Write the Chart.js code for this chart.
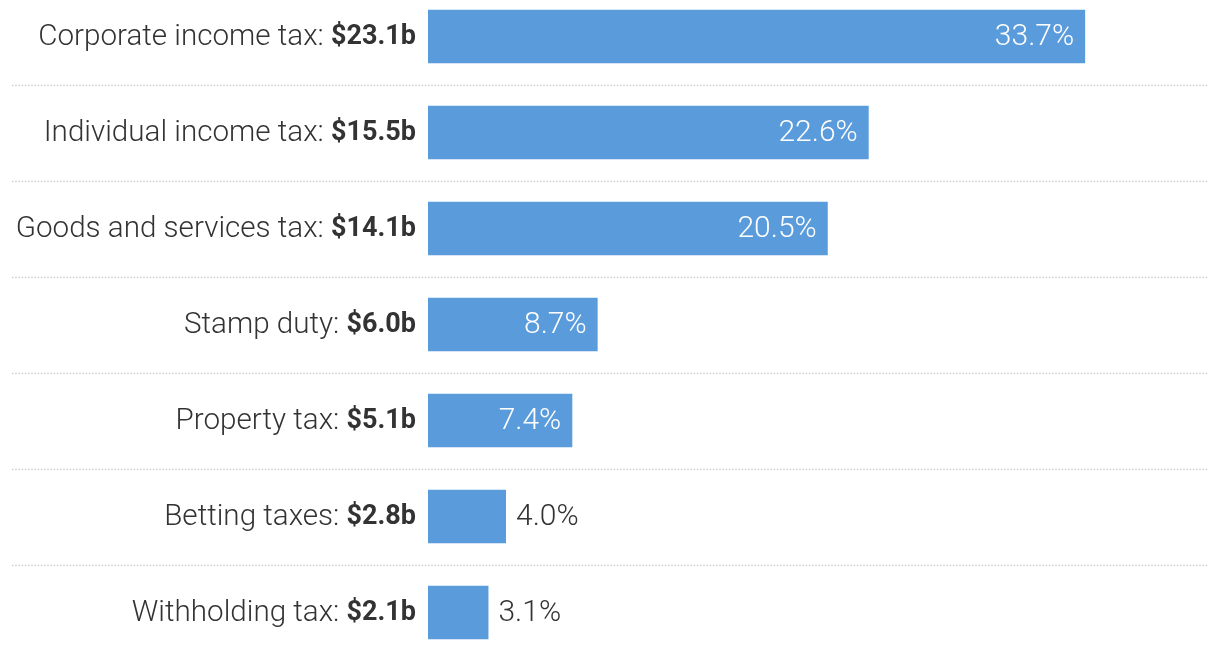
<!DOCTYPE html>
<html>
<head>
<meta charset="utf-8">
<script src="https://cdn.jsdelivr.net/npm/chart.js@4/dist/chart.umd.min.js"></script>
<style>
  html, body { margin: 0; padding: 0; background: #fff; }
  #wrap { width: 1220px; height: 650px; position: relative; }
</style>
</head>
<body>
<div id="wrap"><canvas id="chart" width="1220" height="650"></canvas></div>
<script>
"use strict";

const categories = [
  "Corporate income tax",
  "Individual income tax",
  "Goods and services tax",
  "Stamp duty",
  "Property tax",
  "Betting taxes",
  "Withholding tax",
];
const revenueBillions = [23.1, 15.5, 14.1, 6.0, 5.1, 2.8, 2.1];
const sharePct = [33.7, 22.6, 20.5, 8.7, 7.4, 4.0, 3.1];

const BAR_COLOR = "#5a9bdb";
const TEXT_COLOR = "#333333";
const FONT_FAMILY = "Roboto, 'Open Sans', sans-serif";

/* Draws the mixed-weight row labels, the dotted row separators and the % labels. */
const rowLabels = {
  id: "rowLabels",
  beforeDatasetsDraw(chart) {
    const { ctx } = chart;
    const meta = chart.getDatasetMeta(0);
    ctx.save();
    ctx.strokeStyle = "#cfcfcf";
    ctx.lineWidth = 1.5;
    ctx.setLineDash([1.5, 1.7]);
    for (let i = 0; i < meta.data.length - 1; i++) {
      const y = Math.round((meta.data[i].y + meta.data[i + 1].y) / 2) + 0.5;
      ctx.beginPath();
      ctx.moveTo(12, y);
      ctx.lineTo(1208, y);
      ctx.stroke();
    }
    ctx.restore();
  },
  afterDatasetsDraw(chart) {
    const { ctx } = chart;
    const meta = chart.getDatasetMeta(0);
    const normalFont = `300 29.6px ${FONT_FAMILY}`;
    const boldFont = `700 27px ${FONT_FAMILY}`;
    const pctFont = `300 30px ${FONT_FAMILY}`;
    ctx.save();
    ctx.textBaseline = "middle";
    meta.data.forEach((bar, i) => {
      const y = bar.y + 1;
      // left label: "Name: " light + "$x.xb" bold, right aligned
      const rightEdge = bar.base - 12;
      const amount = "$" + revenueBillions[i].toFixed(1) + "b";
      ctx.textAlign = "right";
      ctx.fillStyle = TEXT_COLOR;
      ctx.font = boldFont;
      ctx.fillText(amount, rightEdge, y);
      const w = ctx.measureText(amount).width;
      ctx.font = normalFont;
      ctx.fillText(categories[i] + ": ", rightEdge - w, y);

      // share label, inside the bar when it fits
      ctx.font = pctFont;
      const pct = sharePct[i].toFixed(1) + "%";
      const pw = ctx.measureText(pct).width;
      const barW = bar.x - bar.base;
      if (pw + 22 < barW) {
        ctx.textAlign = "right";
        ctx.fillStyle = "#ffffff";
        ctx.fillText(pct, bar.x - 11, y);
      } else {
        ctx.textAlign = "left";
        ctx.fillStyle = TEXT_COLOR;
        ctx.fillText(pct, bar.x + 10, y);
      }
    });
    ctx.restore();
  },
};

new Chart(document.getElementById("chart"), {
  type: "bar",
  data: {
    labels: categories,
    datasets: [{
      data: sharePct,
      backgroundColor: BAR_COLOR,
      borderWidth: 0,
      categoryPercentage: 1.0,
      barPercentage: 0.555,
      clip: false,
    }],
  },
  options: {
    indexAxis: "y",
    responsive: false,
    animation: false,
    devicePixelRatio: 1,
    layout: { padding: { left: 428, right: 12, top: 36.5, bottom: 37.5 } },
    plugins: {
      legend: { display: false },
      tooltip: { enabled: false },
    },
    scales: {
      x: { display: false, min: 0, max: 40 },
      y: { display: false, offset: false },
    },
  },
  plugins: [rowLabels],
});
</script>
</body>
</html>
